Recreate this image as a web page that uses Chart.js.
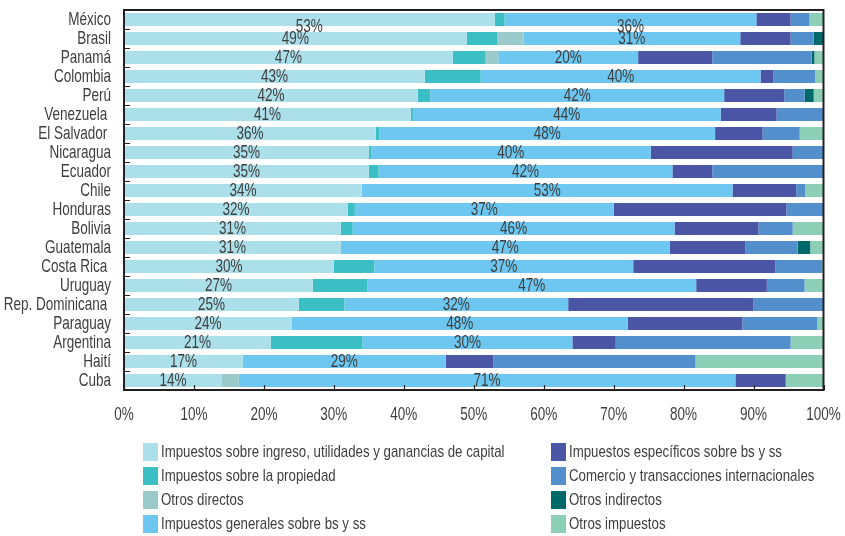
<!DOCTYPE html>
<html lang="es">
<head>
<meta charset="utf-8">
<title>Estructura tributaria</title>
<script src="https://cdn.jsdelivr.net/npm/chart.js@4.4.0/dist/chart.umd.min.js"></script>
<style>
  html, body { margin: 0; padding: 0; background: #ffffff; }
  #wrap { position: relative; width: 845px; height: 536px; overflow: hidden; }
  #chart { position: absolute; left: 0; top: 0; }
  .legend-col { position: absolute; top: 443px; }
  .legend-item { display: flex; align-items: center; height: 18px; margin-bottom: 6px; white-space: nowrap;
    font-family: 'Liberation Sans', Arial, sans-serif; font-size: 17px; color: #3e3e3e; }
  .legend-box { width: 15px; height: 18px; margin-right: 3px; flex: none; }
  .legend-text { display: inline-block; transform: scaleX(0.78); transform-origin: left center; }
</style>
</head>
<body>
<div id="wrap">
  <canvas id="chart" width="845" height="536"></canvas>
  <div class="legend-col" id="legA" style="left:143px"></div>
  <div class="legend-col" id="legB" style="left:551px"></div>
</div>
<script>
// Countries (top to bottom)
const countries = ['México', 'Brasil', 'Panamá', 'Colombia', 'Perú', 'Venezuela ', 'El Salvador ', 'Nicaragua',
  'Ecuador', 'Chile', 'Honduras', 'Bolivia', 'Guatemala', 'Costa Rica ', 'Uruguay', 'Rep. Dominicana ',
  'Paraguay', 'Argentina', 'Haití', 'Cuba'];

// Share of total tax revenue, % (each row adds up to 100)
const ingreso       = [53, 49, 47, 43, 42, 41, 36, 35, 35, 34, 32, 31, 31, 30, 27, 25, 24, 21, 17, 14];
const propiedad     = [1.4, 4.4, 4.7, 8.0, 1.8, 0.3, 0.5, 0.3, 1.4, 0, 1.0, 1.7, 0, 5.8, 7.8, 6.5, 0, 13.1, 0, 0];
const otrosDirectos = [0, 3.7, 1.8, 0, 0, 0, 0, 0, 0, 0, 0, 0, 0, 0, 0, 0, 0, 0, 0, 2.4];
const generales     = [36, 31, 20, 40, 42, 44, 48, 40, 42, 53, 37, 46, 47, 37, 47, 32, 48, 30, 29, 71];
const especificos   = [4.9, 7.2, 10.6, 1.8, 8.6, 8.0, 6.8, 20.3, 5.7, 9.1, 24.7, 12.0, 10.8, 20.3, 10.1, 26.5, 16.4, 6.2, 6.8, 7.2];
const comercio      = [2.7, 3.3, 14.2, 6.0, 2.9, 6.7, 5.3, 4.4, 15.9, 1.3, 5.3, 4.9, 7.5, 6.7, 5.4, 10.0, 10.7, 25.0, 28.9, 0];
const otrosIndir    = [0, 1.4, 0.4, 0, 1.3, 0, 0, 0, 0, 0, 0, 0, 1.8, 0, 0, 0, 0, 0, 0, 0];
const otrosImp      = [2.0, 0, 1.3, 1.2, 1.4, 0, 3.4, 0, 0, 2.6, 0, 4.4, 1.9, 0.2, 2.7, 0, 0.9, 4.7, 18.3, 5.4];

// x-axis ticks, %
const xTicks = [0, 10, 20, 30, 40, 50, 60, 70, 80, 90, 100];

const seriesNames = [
  'Impuestos sobre ingreso, utilidades y ganancias de capital',
  'Impuestos sobre la propiedad',
  'Otros directos',
  'Impuestos generales sobre bs y ss',
  'Impuestos específicos sobre bs y ss',
  'Comercio y transacciones internacionales',
  'Otros indirectos',
  'Otros impuestos'
];
const seriesData = [ingreso, propiedad, otrosDirectos, generales, especificos, comercio, otrosIndir, otrosImp];
const seriesColors = ['#abdfe9', '#3bbec4', '#9bcaca', '#6ec7f0', '#4a56a5', '#538fcd', '#006a6a', '#8dcfb6'];
// datasets whose segments carry a value label
const labelled = [0, 3];

// Narrow lettering: Liberation Sans squeezed horizontally
const FONT = "18.5px 'Liberation Sans', Arial, sans-serif";
const SQUEEZE = 0.73;
const TEXT = '#3e3e3e';
const LINE = '#231f20';

function narrowText(ctx, str, x, y, align) {
  ctx.save();
  ctx.font = FONT;
  ctx.fillStyle = TEXT;
  ctx.textAlign = align;
  ctx.textBaseline = 'middle';
  ctx.scale(SQUEEZE, 1);
  ctx.fillText(str, x / SQUEEZE, y);
  ctx.restore();
}

// Frame, inward tick marks and axis labels
const framePlugin = {
  id: 'frame',
  afterDatasetsDraw(chart) {
    const { ctx, chartArea: a, scales: { x, y } } = chart;
    ctx.save();
    ctx.strokeStyle = LINE;
    ctx.lineWidth = 1.2;
    ctx.beginPath();
    for (let i = 0; i <= countries.length; i++) {
      const py = Math.round(y.getPixelForValue(i - 0.5)) + 0.5;
      ctx.moveTo(a.left, py);
      ctx.lineTo(a.left + 6, py);
    }
    xTicks.forEach(t => {
      const px = Math.round(x.getPixelForValue(t)) + 0.5;
      ctx.moveTo(px, a.bottom);
      ctx.lineTo(px, a.bottom - 5);
    });
    ctx.stroke();
    ctx.lineWidth = 2;
    ctx.strokeRect(a.left, a.top, a.right - a.left, a.bottom - a.top);
    ctx.restore();

    countries.forEach((c, i) => narrowText(ctx, c, a.left - 13, y.getPixelForValue(i) + 0.5, 'right'));
    xTicks.forEach(t => narrowText(ctx, t + '%', x.getPixelForValue(t), a.bottom + 25, 'center'));
  }
};

// Value labels centred on the labelled segments
const valueLabels = {
  id: 'valueLabels',
  afterDatasetsDraw(chart) {
    const { ctx } = chart;
    labelled.forEach(di => {
      const meta = chart.getDatasetMeta(di);
      meta.data.forEach((bar, i) => {
        const v = chart.data.datasets[di].data[i];
        if (!v) return;
        const shift = i === 0 ? 7 : 0;
        narrowText(ctx, v + '%', (bar.x + bar.base) / 2, bar.y + shift, 'center');
      });
    });
  }
};

const chart = new Chart(document.getElementById('chart'), {
  type: 'bar',
  data: {
    labels: countries,
    datasets: seriesNames.map((name, i) => ({
      label: name,
      data: seriesData[i],
      backgroundColor: seriesColors[i],
      borderWidth: 0,
      barPercentage: 0.68,
      categoryPercentage: 1.0
    }))
  },
  options: {
    indexAxis: 'y',
    responsive: false,
    animation: false,
    layout: { padding: { top: 10, right: 21.5, bottom: 106, left: 0 } },
    plugins: { legend: { display: false }, tooltip: { enabled: false } },
    scales: {
      x: {
        stacked: true,
        min: 0,
        max: 100,
        afterBuildTicks(scale) { scale.ticks = xTicks.map(v => ({ value: v })); },
        afterFit(scale) { scale.height = 40; scale.paddingLeft = 0; scale.paddingRight = 0; },
        grid: { display: false, drawTicks: false, tickLength: 0 },
        border: { display: false },
        ticks: { display: false }
      },
      y: {
        stacked: true,
        afterFit(scale) { scale.width = 124; scale.paddingTop = 0; scale.paddingBottom = 0; },
        grid: { display: false, drawTicks: false, tickLength: 0 },
        border: { display: false },
        ticks: { display: false }
      }
    }
  },
  plugins: [framePlugin, valueLabels]
});

// Two-column legend built from the chart's datasets
chart.data.datasets.forEach((ds, i) => {
  const item = document.createElement('div');
  item.className = 'legend-item';
  const box = document.createElement('span');
  box.className = 'legend-box';
  box.style.background = ds.backgroundColor;
  const txt = document.createElement('span');
  txt.className = 'legend-text';
  txt.textContent = ds.label;
  item.appendChild(box);
  item.appendChild(txt);
  document.getElementById(i < 4 ? 'legA' : 'legB').appendChild(item);
});
</script>
</body>
</html>
